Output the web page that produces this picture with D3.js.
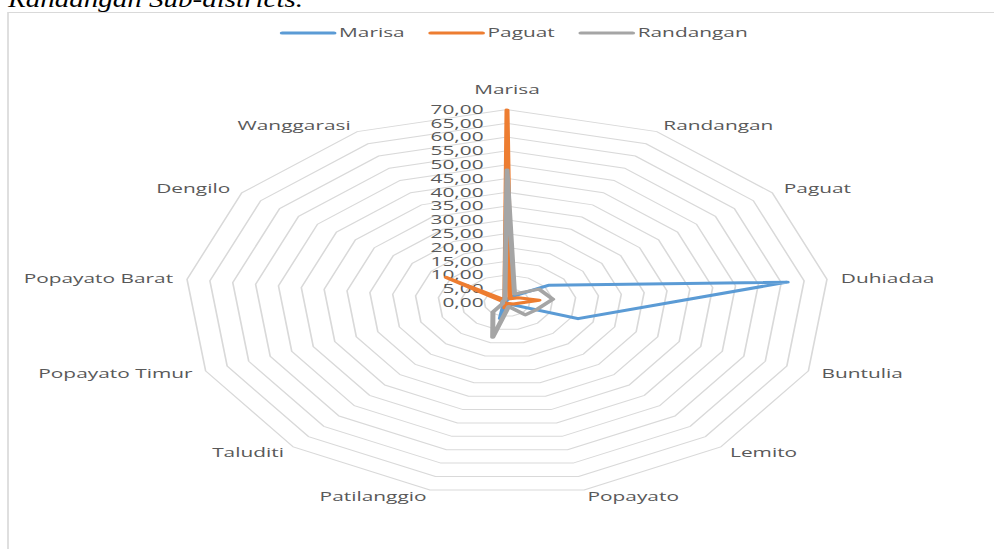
<!DOCTYPE html>
<html>
<head>
<meta charset="utf-8">
<script src="https://cdn.jsdelivr.net/npm/d3@7"></script>
<style>
  body { margin: 0; background: #fff; }
  .chart text { font-family: "Open Sans", sans-serif; fill: #595959; }
</style>
</head>
<body>
<div id="radar"></div>
<script>
// Categories clockwise from the top
const categories = ["Marisa", "Randangan", "Paguat", "Duhiadaa", "Buntulia", "Lemito", "Popayato",
    "Patilanggio", "Taluditi", "Popayato Timur", "Popayato Barat", "Dengilo", "Wanggarasi"];

const seriesNames = ["Marisa", "Paguat", "Randangan"];
const seriesColors = ["#5b9bd5", "#ed7d31", "#a5a5a5"];

// values
const marisaValues = [1.0, 2.5, 11.0, 61.3, 16.5, 0.8, 0.5, 6.0, 1.0, 0.5, 0.5, 0.5, 0.5];
const paguatValues = [69.8, 1.5, 3.0, 7.0, 1.5, 0.5, 1.0, 2.0, 0.5, 0.5, 0.5, 16.0, 1.0];
const randanganValues = [48.1, 3.5, 8.5, 10.0, 7.0, 6.0, 1.5, 13.0, 4.6, 1.0, 1.0, 1.0, 1.0];

const tickValues = d3.range(0, 75, 5);
const titleText = "Randangan Sub-districts.";

document.addEventListener('DOMContentLoaded', function() {
    const width = 994, height = 549;
    // the original picture is stretched sideways, so everything inside the frame is too
    const stretch = 1.67;
    const cx = 507 / stretch, cy = 302.5, radius = 193;

    const svg = d3.select("#radar")
        .append("svg")
        .attr("width", width)
        .attr("height", height)
        .style("display", "block");

    // caption cut off at the top of the page
    svg.append("text")
        .attr("x", 8)
        .attr("y", 7)
        .attr("textLength", 295)
        .attr("lengthAdjust", "spacingAndGlyphs")
        .style("font-family", "'Liberation Serif', 'Times New Roman', serif")
        .style("font-style", "italic")
        .style("font-size", "24px")
        .style("fill", "#000")
        .text(titleText);

    const chart = svg.append("g")
        .attr("class", "chart")
        .attr("transform", "scale(" + stretch + ",1)");

    // chart frame
    chart.append("rect")
        .attr("x", 8 / stretch)
        .attr("y", 12.5)
        .attr("width", width)
        .attr("height", height)
        .attr("fill", "none")
        .attr("stroke", "#d9d9d9")
        .attr("stroke-width", 1);

    const r = d3.scaleLinear().domain([0, 70]).range([0, radius]);
    const angle = d3.scaleLinear().domain([0, categories.length]).range([0, 2 * Math.PI]);

    const plot = chart.append("g")
        .attr("transform", "translate(" + cx + "," + cy + ")");

    // grid rings
    plot.append("g")
        .selectAll("path")
        .data(tickValues.filter(function(t) { return t > 0; }))
        .enter()
        .append("path")
        .attr("d", function(t) {
            return d3.lineRadial()
                .angle(function(d, i) { return angle(i); })
                .radius(r(t))
                .curve(d3.curveLinearClosed)(categories);
        })
        .attr("fill", "none")
        .attr("stroke", "#d9d9d9")
        .attr("stroke-width", 1);

    // value labels along the top spoke
    plot.append("g")
        .selectAll("text")
        .data(tickValues)
        .enter()
        .append("text")
        .attr("x", -14)
        .attr("y", function(t) { return -r(t); })
        .attr("dy", "0.35em")
        .attr("text-anchor", "end")
        .style("font-size", "12.5px")
        .text(function(t) { return d3.format(".2f")(t).replace(".", ","); });

    // category labels
    plot.append("g")
        .selectAll("text")
        .data(categories)
        .enter()
        .append("text")
        .attr("x", function(d, i) {
            const s = Math.sin(angle(i));
            return s * r(70) + s * 8.4;
        })
        .attr("y", function(d, i) {
            const s = Math.sin(angle(i)), c = Math.cos(angle(i));
            return -c * r(70) - c * (Math.abs(s) < 0.01 ? 20 : 7);
        })
        .attr("dy", "0.35em")
        .attr("text-anchor", function(d, i) {
            const s = Math.sin(angle(i));
            return Math.abs(s) < 0.01 ? "middle" : (s > 0 ? "start" : "end");
        })
        .style("font-size", "12.5px")
        .text(function(d) { return d; });

    // series lines
    const series = [marisaValues, paguatValues, randanganValues];
    const radarLine = d3.lineRadial()
        .angle(function(d, i) { return angle(i); })
        .radius(function(d) { return r(d); })
        .curve(d3.curveLinearClosed);

    plot.append("g")
        .selectAll("path")
        .data(series)
        .enter()
        .append("path")
        .attr("d", radarLine)
        .attr("fill", "none")
        .attr("stroke", function(d, i) { return seriesColors[i]; })
        .attr("stroke-width", 3)
        .attr("stroke-linejoin", "round");

    // legend, centred over the plot
    const legend = chart.append("g").attr("transform", "translate(0,33)");
    const lineLen = 31, gapText = 3, gapItem = 15.6;
    const items = legend.selectAll("g")
        .data(seriesNames)
        .enter()
        .append("g");
    items.append("line")
        .attr("x1", 0).attr("x2", lineLen)
        .attr("stroke", function(d, i) { return seriesColors[i]; })
        .attr("stroke-width", 3)
        .attr("stroke-linecap", "round");
    items.append("text")
        .attr("x", lineLen + gapText)
        .attr("dy", "0.35em")
        .style("font-size", "12.5px")
        .text(function(d) { return d; });

    let offset = 0;
    const widths = [];
    items.each(function() {
        widths.push(lineLen + gapText + d3.select(this).select("text").node().getComputedTextLength());
    });
    const total = d3.sum(widths) + gapItem * (widths.length - 1);
    const start = 515 / stretch - total / 2;
    items.attr("transform", function(d, i) {
        const x = start + offset;
        offset += widths[i] + gapItem;
        return "translate(" + x + ",0)";
    });
});
</script>
</body>
</html>
